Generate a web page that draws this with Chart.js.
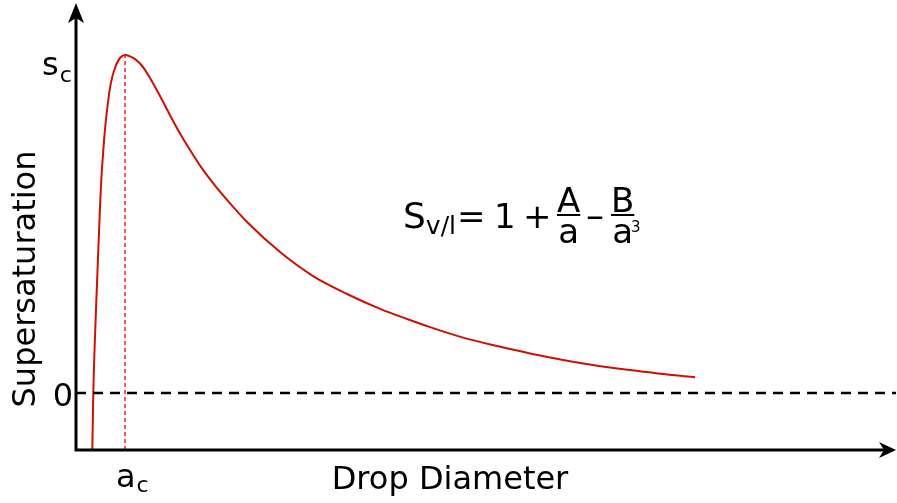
<!DOCTYPE html>
<html>
<head>
<meta charset="utf-8">
<script src="https://cdn.jsdelivr.net/npm/chart.js@4"></script>
<style>
  html, body { margin: 0; padding: 0; background: #fff; }
  #wrap { width: 897px; height: 503px; }
</style>
</head>
<body>
<div id="wrap"><canvas id="myChart" width="897" height="503"></canvas></div>
<script>
// Köhler curve, diameter in units of a_c, supersaturation in units of s_c
const diameter = [0.333, 0.353, 0.408, 0.463, 0.490, 0.506, 0.524, 0.547, 0.573, 0.604, 0.641,
    0.686, 0.739, 0.802, 0.867, 0.933, 1.0, 1.102, 1.204, 1.306, 1.408, 1.510, 1.714, 1.918,
    2.122, 2.327, 2.531, 2.796, 3.143, 3.490, 4.163, 4.837, 5.531, 6.204, 6.755, 7.224, 7.898,
    8.592, 9.265, 9.939, 10.633, 11.306, 11.980, 12.633];
const supersaturation = [-0.166, 0.0, 0.246, 0.453, 0.550, 0.601, 0.651, 0.698, 0.749, 0.799, 0.846,
    0.896, 0.935, 0.964, 0.985, 0.996, 1.0, 0.996, 0.988, 0.975, 0.956, 0.932, 0.879, 0.822,
    0.768, 0.719, 0.673, 0.621, 0.561, 0.506, 0.417, 0.346, 0.293, 0.249, 0.219, 0.195, 0.164,
    0.139, 0.117, 0.098, 0.081, 0.068, 0.056, 0.047];

const criticalDiameter = 1.0;
const criticalSupersat = 1.0;

const xMin = 0, xMax = 16.73;
const yMin = -0.1686, yMax = 1.154;

const yTicks = [0, criticalSupersat];
const yTickText = ['0', 's'];
const yTickSub = ['', 'c'];
const xTicks = [criticalDiameter];
const xTickText = ['a'];
const xTickSub = ['c'];

const FONT = '"DejaVu Sans", sans-serif';

function font(size) { return size + 'px ' + FONT; }

function arrowHead(ctx, tipX, tipY, dir) {
    // dir: 'right' or 'up'
    ctx.beginPath();
    if (dir === 'right') {
        ctx.moveTo(tipX, tipY);
        ctx.lineTo(tipX - 17, tipY - 8);
        ctx.lineTo(tipX - 12, tipY);
        ctx.lineTo(tipX - 17, tipY + 8);
    } else {
        ctx.moveTo(tipX, tipY);
        ctx.lineTo(tipX - 8, tipY + 20);
        ctx.lineTo(tipX, tipY + 15);
        ctx.lineTo(tipX + 8, tipY + 20);
    }
    ctx.closePath();
    ctx.fill();
}

const decorations = {
    id: 'decorations',
    afterDraw(chart) {
        const ctx = chart.ctx;
        const xs = chart.scales.x, ys = chart.scales.y;
        const area = chart.chartArea;
        const x0 = xs.getPixelForValue(xMin);
        const yB = ys.getPixelForValue(yMin);
        ctx.save();
        ctx.fillStyle = '#000';
        ctx.strokeStyle = '#000';
        ctx.lineWidth = 3;

        // axes
        ctx.beginPath();
        ctx.moveTo(x0, yB + 1.5);
        ctx.lineTo(x0, area.top + 10);
        ctx.moveTo(x0 - 1.5, yB);
        ctx.lineTo(area.right - 8, yB);
        ctx.stroke();
        arrowHead(ctx, x0, area.top, 'up');
        arrowHead(ctx, area.right, yB, 'right');

        // y tick labels
        ctx.textBaseline = 'alphabetic';
        yTicks.forEach((v, i) => {
            const py = ys.getPixelForValue(v);
            ctx.font = font(32);
            if (yTickSub[i]) {
                ctx.textAlign = 'left';
                ctx.fillText(yTickText[i], 42, py + 20);
                const w = ctx.measureText(yTickText[i]).width;
                ctx.font = font(22);
                ctx.fillText(yTickSub[i], 42 + w + 1, py + 27);
            } else {
                ctx.textAlign = 'right';
                ctx.fillText(yTickText[i], x0 - 3, py + 13);
            }
        });

        // x tick labels
        xTicks.forEach((v, i) => {
            const px = xs.getPixelForValue(v);
            ctx.textAlign = 'left';
            ctx.font = font(32);
            const w = ctx.measureText(xTickText[i]).width;
            ctx.fillText(xTickText[i], px - 9, yB + 37);
            ctx.font = font(22);
            ctx.fillText(xTickSub[i], px - 9 + w + 1, yB + 42);
        });

        // axis titles
        ctx.font = font(32);
        ctx.textAlign = 'center';
        ctx.fillText('Drop Diameter', 450, yB + 39);
        ctx.save();
        ctx.translate(35, 279);
        ctx.rotate(-Math.PI / 2);
        ctx.fillText('Supersaturation', 0, 0);
        ctx.restore();

        // equation
        const ex = 403, eb = 228;
        ctx.textAlign = 'left';
        ctx.font = font(36);
        ctx.fillText('S', ex, eb);
        const sw = ctx.measureText('S').width;
        ctx.font = font(25);
        ctx.fillText('v/l', ex + sw, eb + 6);
        ctx.font = font(34);
        ctx.fillText('=', ex + 54, eb);
        ctx.fillText('1', ex + 91, eb);
        ctx.fillText('+', ex + 120, eb);

        function frac(num, den, sup, x) {
            ctx.font = font(34);
            const wn = ctx.measureText(num).width;
            const wd = ctx.measureText(den).width;
            const w = Math.max(wn, wd);
            ctx.fillText(num, x + (w - wn) / 2, eb - 16);
            ctx.fillText(den, x + (w - wd) / 2, eb + 15);
            if (sup) {
                ctx.font = font(15);
                ctx.fillText(sup, x + (w + wd) / 2 - 2, eb + 4);
            }
            ctx.fillRect(x, eb - 14, w, 2);
        }
        frac('A', 'a', '', ex + 154);
        ctx.font = font(36);
        ctx.fillText('–', ex + 183, eb);
        frac('B', 'a', '3', ex + 208);
        ctx.restore();
    }
};

const ctx = document.getElementById('myChart');

const myChart = new Chart(ctx, {
    type: 'scatter',
    data: {
        datasets: [
            {
                label: 'zero',
                data: [{ x: xMin, y: 0 }, { x: xMax, y: 0 }],
                showLine: true,
                borderColor: '#000',
                borderWidth: 2.5,
                borderDash: [10, 7],
                pointRadius: 0,
            },
            {
                label: 'critical diameter',
                data: [{ x: criticalDiameter, y: yMin }, { x: criticalDiameter, y: criticalSupersat }],
                showLine: true,
                borderColor: '#ff1a1a',
                borderWidth: 1.5,
                borderDash: [4, 3],
                pointRadius: 0,
            },
            {
                label: 'S',
                data: diameter.map((d, i) => ({ x: d, y: supersaturation[i] })),
                showLine: true,
                borderColor: '#cc1100',
                borderWidth: 2,
                cubicInterpolationMode: 'monotone',
                pointRadius: 0,
            },
        ]
    },
    options: {
        responsive: false,
        animation: false,
        layout: { padding: { left: 76, right: 1, top: 3, bottom: 53 } },
        plugins: { legend: { display: false }, tooltip: { enabled: false } },
        scales: {
            x: { type: 'linear', min: xMin, max: xMax, display: false },
            y: { type: 'linear', min: yMin, max: yMax, display: false }
        }
    },
    plugins: [decorations]
});
</script>
</body>
</html>
